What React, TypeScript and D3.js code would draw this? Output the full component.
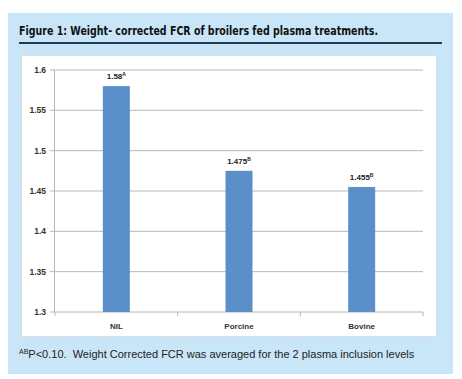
import React from "react";
import * as d3 from "d3";

const categories = ["NIL", "Porcine", "Bovine"];
const values = [1.58, 1.475, 1.455];
const letters = ["A", "B", "B"];
const yTicks = [1.3, 1.35, 1.4, 1.45, 1.5, 1.55, 1.6];
const yTickLabels = ["1.3", "1.35", "1.4", "1.45", "1.5", "1.55", "1.6"];

export default function App() {
  const W = 462, H = 379;
  const x = d3.scaleBand().domain(categories).range([55, 423]).paddingInner(0.78).paddingOuter(0.39);
  const y = d3.scaleLinear().domain([1.3, 1.6]).range([312, 70]);
  const step = x.step();
  const labelFont = "'Liberation Sans', Arial, sans-serif";
  return (
    <svg width={W} height={H} style={{ position: "absolute", left: 0, top: 0 }}>
      <rect x={0} y={0} width={W} height={H} fill="#ffffff" />
      <rect x={8} y={13} width={445} height={361} fill="#c9e6f8" />
      <text x={19} y={35} fontFamily="'DejaVu Sans Condensed', 'DejaVu Sans', sans-serif" fontWeight="bold" fontSize={11.5} fill="#111" textLength={359} lengthAdjust="spacingAndGlyphs">
        Figure 1: Weight- corrected FCR of broilers fed plasma treatments.
      </text>
      <line x1={19} x2={442} y1={43} y2={43} stroke="#1f3a56" strokeWidth={2} />
      <rect x={21.5} y={55.5} width={415} height={281} fill="#ffffff" stroke="#d8dde2" strokeWidth={1} />
      {yTicks.map((t, i) => (
        <g key={i}>
          <line x1={50} x2={423} y1={y(t)} y2={y(t)} stroke="#b8b8b8" strokeWidth={1} />
          <text x={46} y={y(t) + 3} textAnchor="end" fontFamily={labelFont} fontWeight="bold" fontSize={8.5} fill="#333">
            {yTickLabels[i]}
          </text>
        </g>
      ))}
      <line x1={54.5} x2={54.5} y1={70} y2={312} stroke="#b8b8b8" />
      {[0, 1, 2, 3].map((i) => (
        <line key={i} x1={55 + i * step} x2={55 + i * step} y1={312} y2={316} stroke="#b8b8b8" />
      ))}
      {categories.map((c, i) => (
        <g key={c}>
          <rect x={x(c)!} y={y(values[i])} width={x.bandwidth()} height={y(1.3) - y(values[i])} fill="#5b8fca" />
          <text x={x(c)! + x.bandwidth() / 2} y={y(values[i]) - 7} textAnchor="middle" fontFamily={labelFont} fontWeight="bold" fontSize={8} fill="#222">
            {String(values[i])}
            <tspan fontSize={5} dy={-3}>{letters[i]}</tspan>
          </text>
          <text x={x(c)! + x.bandwidth() / 2} y={329} textAnchor="middle" fontFamily={labelFont} fontWeight="bold" fontSize={8} fill="#333">
            {c}
          </text>
        </g>
      ))}
      <text x={19} y={358} fontFamily={labelFont} fontSize={11} fill="#222">
        <tspan fontSize={7} dy={-4}>AB</tspan>
        <tspan dy={4}>{"P<0.10.\u00A0 Weight Corrected FCR was averaged for the 2 plasma inclusion levels"}</tspan>
      </text>
    </svg>
  );
}
